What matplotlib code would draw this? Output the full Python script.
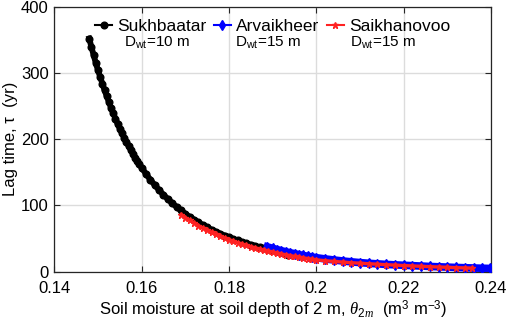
import matplotlib
matplotlib.use('Agg')
import matplotlib.pyplot as plt

# lag time vs soil moisture, three stations
sukh_x = [0.148, 0.1485, 0.149, 0.1495, 0.150, 0.1505, 0.151, 0.1515, 0.152, 0.1525,
          0.153, 0.1535, 0.154, 0.1545, 0.155, 0.1555, 0.156, 0.1565, 0.157, 0.1575,
          0.158, 0.1585, 0.159, 0.1595, 0.160, 0.161, 0.162, 0.163, 0.164, 0.165,
          0.166, 0.167, 0.168, 0.169, 0.170, 0.171, 0.172, 0.173, 0.174, 0.175,
          0.176, 0.177, 0.178, 0.179, 0.180, 0.181, 0.182, 0.183, 0.184, 0.185,
          0.186, 0.187, 0.188, 0.189, 0.190, 0.191, 0.192, 0.193, 0.1935]
sukh_y = [352, 339, 327, 315, 304, 294, 284, 274, 265, 256,
          247, 239, 231, 223, 216, 209, 202, 196, 190, 184,
          178, 172, 167, 162, 157, 147.5, 138.8, 130.7, 123.1, 116.1,
          109.6, 103.5, 97.8, 92.4, 87.5, 82.8, 78.4, 74.4, 70.5, 66.9,
          63.5, 60.4, 57.4, 54.6, 51.9, 49.4, 47.1, 44.8, 42.7, 40.8,
          38.9, 37.1, 35.5, 33.9, 32.4, 31.0, 29.6, 27.5, 25.5]

arva_x = [0.1888, 0.190, 0.191, 0.192, 0.193, 0.194, 0.195, 0.196, 0.197, 0.198,
          0.199, 0.200, 0.202, 0.204, 0.206, 0.208, 0.210, 0.212, 0.214, 0.216,
          0.218, 0.220, 0.222, 0.224, 0.226, 0.228, 0.230, 0.232, 0.234, 0.236,
          0.238, 0.2398]
arva_y = [37.5, 35.2, 33.4, 31.7, 30.1, 28.6, 27.2, 25.8, 24.5, 23.3,
          22.2, 21.1, 19.3, 17.7, 16.2, 14.9, 13.7, 12.7, 11.8, 11.0,
          10.3, 9.7, 9.1, 8.5, 7.9, 7.4, 6.9, 6.4, 6.0, 5.6,
          5.2, 4.9]

saik_x = [0.169, 0.170, 0.171, 0.172, 0.173, 0.174, 0.175, 0.176, 0.177, 0.178,
          0.179, 0.180, 0.181, 0.182, 0.183, 0.184, 0.185, 0.186, 0.187, 0.188,
          0.189, 0.190, 0.191, 0.192, 0.193, 0.194, 0.195, 0.196, 0.197, 0.198,
          0.199, 0.200, 0.202, 0.204, 0.206, 0.208, 0.210, 0.212, 0.214, 0.216,
          0.218, 0.220, 0.222, 0.224, 0.226, 0.228, 0.230, 0.232, 0.234, 0.2356]
saik_y = [86, 81.5, 77.5, 73.5, 69.5, 66, 62.5, 59.3, 56.3, 53.5,
          50.8, 48.3, 46, 43.8, 41.7, 39.7, 37.8, 36, 34.3, 32.7,
          31.1, 29.6, 28.2, 26.8, 25.5, 24.2, 23, 21.9, 20.8, 19.8,
          18.8, 17.9, 16.6, 15.5, 14.5, 13.6, 12.8, 12.0, 11.3, 10.6,
          9.9, 9.3, 8.7, 8.1, 7.6, 7.1, 6.6, 6.1, 5.7, 5.3]

x_ticks = [0.14, 0.16, 0.18, 0.2, 0.22, 0.24]
x_tick_labels = ['0.14', '0.16', '0.18', '0.2', '0.22', '0.24']
y_ticks = [0, 100, 200, 300, 400]

plt.rcParams['font.family'] = ['Liberation Sans', 'DejaVu Sans']
plt.rcParams['mathtext.fontset'] = 'custom'
plt.rcParams['mathtext.rm'] = 'Liberation Sans'
plt.rcParams['mathtext.it'] = 'Liberation Serif:italic'

fig = plt.figure(figsize=(5.1, 3.21), dpi=100)
ax = fig.add_axes([0.1065, 0.1536, 0.8563, 0.8255])

ax.plot(sukh_x, sukh_y, '-o', color='k', ms=4.8, lw=4.2, label='Sukhbaatar', zorder=3)
ax.plot(arva_x, arva_y, '-d', color='#0000ff', ms=5.5, lw=5.5, label='Arvaikheer', zorder=4)
ax.plot(saik_x, saik_y, '-*', color='#ff2222', ms=4.5, lw=2.4, label='Saikhanovoo', zorder=5)

ax.set_xlim(0.14, 0.24)
ax.set_ylim(0, 400)
ax.set_xticks(x_ticks)
ax.set_xticklabels(x_tick_labels)
ax.set_yticks(y_ticks)
ax.grid(True, color='#dcdcdc', lw=1)
ax.set_axisbelow(True)
ax.tick_params(direction='in', top=True, right=True, length=4, width=0.8,
               labelsize=12, pad=4, color='#262626')
ax.tick_params(axis='x', pad=7)
for sp in ax.spines.values():
    sp.set_color('#262626')
    sp.set_linewidth(0.9)

ax.set_xlabel(r'Soil moisture at soil depth of 2 m, $\theta_{\mathit{2m}}$  (m$^3$ m$^{-3}$)',
              fontsize=12, labelpad=2)
ax.set_ylabel('Lag time, τ  (yr)', fontsize=12, labelpad=2)

leg = ax.legend(loc='upper center', bbox_to_anchor=(0.5, 1.0), ncol=3, frameon=False,
                fontsize=12.5, handlelength=1.0, handletextpad=0.3, columnspacing=0.4,
                borderaxespad=0.3)
for h in leg.get_lines():
    h.set_linewidth(1.5)

ax.text(0.1596, 0.863, r'D$_{\mathrm{wt}}$=10 m', transform=ax.transAxes, fontsize=11, va='center')
ax.text(0.4138, 0.863, r'D$_{\mathrm{wt}}$=15 m', transform=ax.transAxes, fontsize=11, va='center')
ax.text(0.677, 0.863, r'D$_{\mathrm{wt}}$=15 m', transform=ax.transAxes, fontsize=11, va='center')

fig.savefig('out.png', dpi=100)
